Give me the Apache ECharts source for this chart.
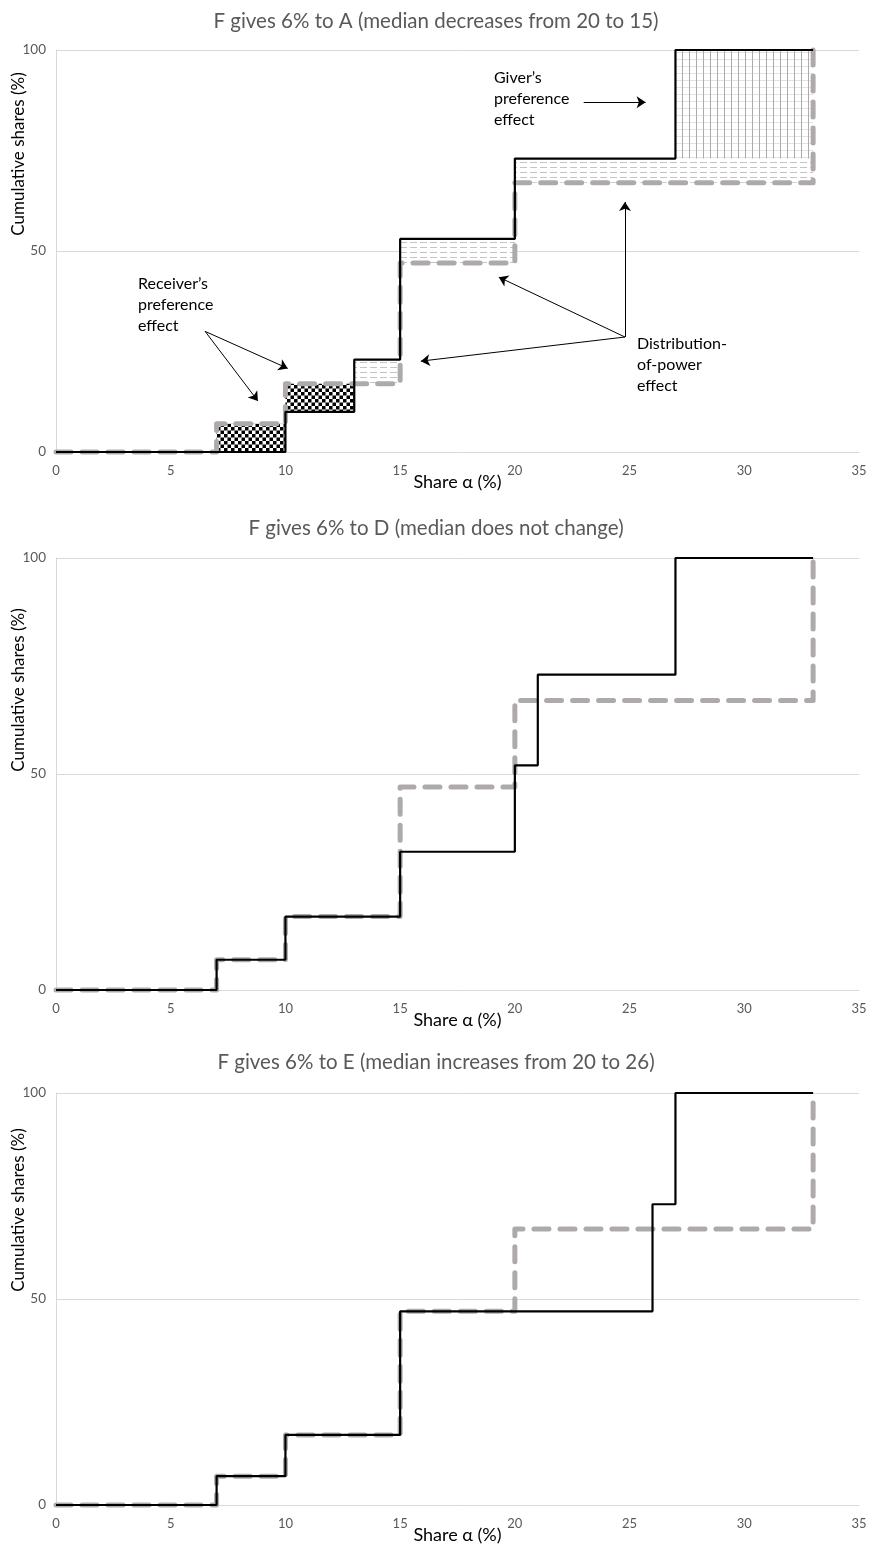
<!DOCTYPE html>
<html>
<head>
<meta charset="utf-8">
<script src="https://cdn.jsdelivr.net/npm/echarts@6/dist/echarts.min.js"></script>
<style>
html,body{margin:0;padding:0;background:#fff;}
#c{width:872px;height:1545px;}
</style>
</head>
<body>
<div id="c"></div>
<script>
// ---------- data ----------
const titles = [
  'F gives 6% to A (median decreases from 20 to 15)',
  'F gives 6% to D (median does not change)',
  'F gives 6% to E (median increases from 20 to 26)'
];
const xAxisName = 'Share \u03B1 (%)';
const yAxisName = 'Cumulative shares (%)';

// original distribution (grey dashed): step points [share, cumulative]
const beforeX = [0, 7, 10, 15, 20, 33];
const beforeY = [0, 7, 17, 47, 67, 100];
// after F gives 6% to A
const afterAX = [0, 10, 13, 15, 20, 27, 33];
const afterAY = [0, 10, 23, 53, 73, 100, 100];
// after F gives 6% to D
const afterDX = [0, 7, 10, 15, 20, 21, 27, 33];
const afterDY = [0, 7, 17, 32, 52, 73, 100, 100];
// after F gives 6% to E
const afterEX = [0, 7, 10, 15, 26, 27, 33];
const afterEY = [0, 7, 17, 47, 73, 100, 100];

// shaded effect regions in chart 1: [x0, x1, y0, y1]
const receiverRegions = [[7, 10, 0, 7], [10, 13, 10, 17]];
const powerRegions = [[13, 15, 17, 23], [15, 20, 47, 53], [20, 33, 67, 73]];
const giverRegions = [[27, 33, 73, 100]];

// annotation arrows in chart 1: [fromX, fromY, toX, toY]
const receiverArrows = [[6.5, 30, 10.1, 20.8], [6.5, 30, 8.8, 12.7]];
const giverArrows = [[23.0, 87, 25.7, 87]];
const powerArrows = [[24.8, 28.6, 19.3, 43.5], [24.8, 28.6, 24.8, 62.2], [24.8, 28.6, 15.9, 22.6]];

const receiverText = 'Receiver\u2019s\npreference\neffect';
const giverText = 'Giver\u2019s\npreference\neffect';
const powerText = 'Distribution-\nof-power\neffect';

// ---------- styling / layout ----------
const FONT = 'Lato';
const gridDefs = [
  {top: 50, height: 402},
  {top: 558, height: 432},
  {top: 1093, height: 413}
];
const titleTops = [6, 513, 1047];
const yNameCenters = [154, 690, 1210];

function makePattern(w, h, draw) {
  const c = document.createElement('canvas');
  c.width = w; c.height = h;
  const g = c.getContext('2d');
  draw(g);
  return {image: c, repeat: 'repeat'};
}
const checker = makePattern(7, 7, g => {
  g.fillStyle = '#fff'; g.fillRect(0, 0, 7, 7);
  g.fillStyle = '#000'; g.fillRect(0, 0, 3.5, 3.5); g.fillRect(3.5, 3.5, 3.5, 3.5);
});
const dashPat = makePattern(10, 5, g => {
  g.fillStyle = '#fff'; g.fillRect(0, 0, 10, 5);
  g.fillStyle = '#c4c4c4'; g.fillRect(0, 2, 7, 1);
});
const gridPat = makePattern(7, 7, g => {
  g.fillStyle = '#fff'; g.fillRect(0, 0, 7, 7);
  g.fillStyle = '#e2e2e2'; g.fillRect(0, 3, 7, 1);
  g.fillStyle = '#acacac'; g.fillRect(3, 0, 1, 7);
});

function regionSeries(regions, pattern) {
  return {
    type: 'custom', xAxisIndex: 0, yAxisIndex: 0, z: 1, silent: true, animation: false,
    data: regions,
    encode: {x: [0, 1], y: [2, 3]},
    renderItem: function (params, api) {
      const p0 = api.coord([api.value(0), api.value(3)]);
      const p1 = api.coord([api.value(1), api.value(2)]);
      return {
        type: 'rect',
        shape: {x: p0[0], y: p0[1], width: p1[0] - p0[0], height: p1[1] - p0[1]},
        style: {fill: pattern}
      };
    }
  };
}

function greySeries(idx) {
  return {
    type: 'line', xAxisIndex: idx, yAxisIndex: idx, step: 'end', symbol: 'none',
    data: beforeX.map((x, i) => [x, beforeY[i]]),
    lineStyle: {color: '#aeaaaa', width: 5, type: [15, 11], cap: 'round', join: 'round'},
    clip: false, animation: false, silent: true, z: 3
  };
}
function blackSeries(idx, xs, ys, extra) {
  return Object.assign({
    type: 'line', xAxisIndex: idx, yAxisIndex: idx, step: 'end', symbol: 'none',
    data: xs.map((x, i) => [x, ys[i]]),
    lineStyle: {color: '#000', width: 2.2, type: 'solid'},
    clip: false, animation: false, silent: true, z: 4
  }, extra || {});
}

const allArrows = receiverArrows.concat(giverArrows, powerArrows);
const arrowMarkLine = {
  silent: true, animation: false,
  symbol: ['none', 'arrow'], symbolSize: 9,
  lineStyle: {color: '#000', width: 1, type: 'solid'},
  label: {show: false},
  emphasis: {disabled: true},
  data: allArrows.map(a => [{coord: [a[0], a[1]]}, {coord: [a[2], a[3]]}])
};

const option = {
  backgroundColor: '#fff',
  animation: false,
  textStyle: {fontFamily: FONT},
  title: titles.map((t, i) => ({
    text: t, left: 'center', top: titleTops[i],
    textStyle: {fontFamily: FONT, fontSize: 20.5, fontWeight: 'normal', color: '#595959'}
  })),
  grid: gridDefs.map(g => ({left: 56, right: 13, top: g.top, height: g.height})),
  xAxis: gridDefs.map((g, i) => ({
    type: 'value', gridIndex: i, min: 0, max: 35, interval: 5,
    axisLine: {show: true, lineStyle: {color: '#d9d9d9'}},
    axisTick: {show: false},
    splitLine: {show: false},
    axisLabel: {color: '#595959', fontSize: 13, margin: 12, fontFamily: FONT},
    name: xAxisName, nameLocation: 'middle', nameGap: 21, nameMoveOverlap: false,
    nameTextStyle: {color: '#000', fontSize: 18, fontFamily: FONT}
  })),
  yAxis: gridDefs.map((g, i) => ({
    type: 'value', gridIndex: i, min: 0, max: 100, interval: 50,
    axisLine: {show: true, lineStyle: {color: '#d9d9d9'}},
    axisTick: {show: false},
    splitLine: {show: true, lineStyle: {color: '#d9d9d9', width: 1}},
    axisLabel: {color: '#595959', fontSize: 13.5, margin: 10, fontFamily: FONT}
  })),
  series: [
    regionSeries(receiverRegions, checker),
    regionSeries(powerRegions, dashPat),
    regionSeries(giverRegions, gridPat),
    greySeries(0),
    blackSeries(0, afterAX, afterAY, {markLine: arrowMarkLine}),
    greySeries(1),
    blackSeries(1, afterDX, afterDY),
    greySeries(2),
    blackSeries(2, afterEX, afterEY)
  ],
  graphic: yNameCenters.map(c => ({
    type: 'text', x: 19, y: c, rotation: Math.PI / 2, silent: true,
    style: {text: yAxisName, font: '17px ' + FONT, fill: '#000', align: 'center', verticalAlign: 'middle'}
  })).concat([
    {type: 'text', x: 138, y: 273, silent: true,
     style: {text: receiverText, font: '16px ' + FONT, lineHeight: 21, fill: '#000'}},
    {type: 'text', x: 494, y: 67, silent: true,
     style: {text: giverText, font: '16px ' + FONT, lineHeight: 21, fill: '#000'}},
    {type: 'text', x: 637, y: 333, silent: true,
     style: {text: powerText, font: '16px ' + FONT, lineHeight: 21, fill: '#000'}}
  ])
};

const chart = echarts.init(document.getElementById('c'), null, {renderer: 'canvas'});
chart.setOption(option);
</script>
</body>
</html>
